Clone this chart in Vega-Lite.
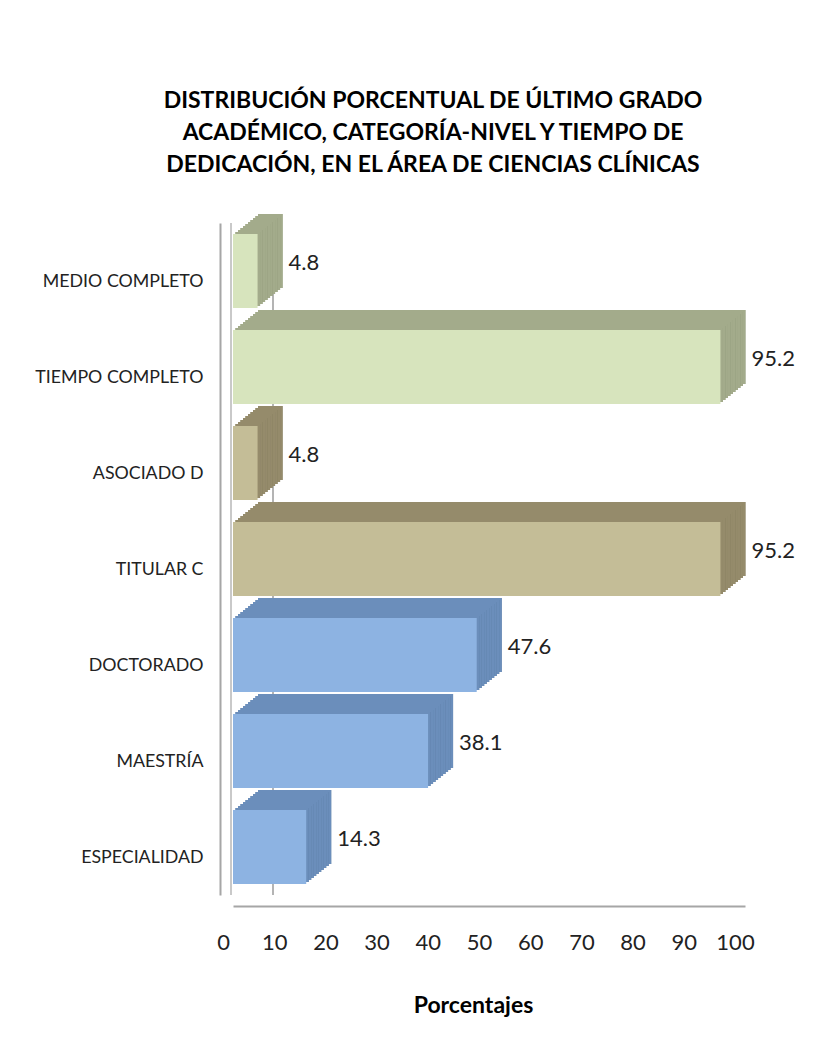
{
  "$schema": "https://vega.github.io/schema/vega-lite/v6.json",
  "width": 512,
  "height": 672,
  "autosize": "none",
  "padding": {"left": 233, "top": 223, "right": 77, "bottom": 160},
  "background": "white",
  "config": {"view": {"stroke": null}, "font": "Lato"},
  "title": {
    "text": ["DISTRIBUCIÓN PORCENTUAL DE ÚLTIMO GRADO", "ACADÉMICO, CATEGORÍA-NIVEL Y TIEMPO DE", "DEDICACIÓN, EN EL ÁREA DE CIENCIAS CLÍNICAS"],
    "font": "Lato",
    "fontSize": 23,
    "fontWeight": "bold",
    "color": "#000000",
    "lineHeight": 32,
    "anchor": "middle",
    "dx": -56,
    "offset": 37
  },
  "data": {
    "values": [
      {"categoria": "MEDIO COMPLETO", "grupo": "tiempo", "porcentaje": 4.8},
      {"categoria": "TIEMPO COMPLETO", "grupo": "tiempo", "porcentaje": 95.2},
      {"categoria": "ASOCIADO D", "grupo": "categoria", "porcentaje": 4.8},
      {"categoria": "TITULAR C", "grupo": "categoria", "porcentaje": 95.2},
      {"categoria": "DOCTORADO", "grupo": "grado", "porcentaje": 47.6},
      {"categoria": "MAESTRÍA", "grupo": "grado", "porcentaje": 38.1},
      {"categoria": "ESPECIALIDAD", "grupo": "grado", "porcentaje": 14.3}
    ]
  },
  "encoding": {
    "y": {
      "field": "categoria",
      "type": "nominal",
      "sort": null,
      "scale": {"paddingInner": 0.23, "paddingOuter": 0.115},
      "axis": {
        "title": null,
        "offset": 13,
        "domainColor": "#a6a6a6",
        "domainWidth": 2,
        "ticks": false,
        "tickSize": 0,
        "labelPadding": 17,
        "labelFontSize": 17.8,
        "labelColor": "#222222",
        "labelOffset": 11,
        "labelFont": "Lato"
      }
    },
    "x": {"field": "porcentaje", "type": "quantitative", "scale": {"domain": [0, 100], "nice": false}}
  },
  "layer": [
    {
      "mark": {"type": "rule", "color": "#c8c8c8", "strokeWidth": 1.5, "xOffset": -2},
      "encoding": {"x": {"datum": 0, "type": "quantitative", "scale": {"domain": [0, 100], "nice": false}}, "y": null}
    },
    {
      "mark": {"type": "rule", "color": "#b4b4b4", "strokeWidth": 1.5, "xOffset": 40},
      "encoding": {"x": {"datum": 0, "type": "quantitative", "scale": {"domain": [0, 100], "nice": false}}, "y": null}
    },
    {"mark": {"type": "bar", "xOffset": 25, "x2Offset": 25, "yOffset": -20, "y2Offset": -20}, "encoding": {"color": {"field": "grupo", "type": "nominal", "legend": null, "scale": {"domain": ["tiempo", "categoria", "grado"], "range": ["#8a9575", "#7f7a5c", "#56799f"]}}}},
    {"mark": {"type": "bar", "xOffset": 25, "x2Offset": 25, "yOffset": -20, "y2Offset": -91.9}, "encoding": {"color": {"field": "grupo", "type": "nominal", "legend": null, "scale": {"domain": ["tiempo", "categoria", "grado"], "range": ["#a3ab8b", "#958b6b", "#6b8ebb"]}}}},
    {"mark": {"type": "bar", "xOffset": 22.5, "x2Offset": 22.5, "yOffset": -18, "y2Offset": -18}, "encoding": {"color": {"field": "grupo", "type": "nominal", "legend": null, "scale": {"domain": ["tiempo", "categoria", "grado"], "range": ["#8a9575", "#7f7a5c", "#56799f"]}}}},
    {"mark": {"type": "bar", "xOffset": 22.5, "x2Offset": 22.5, "yOffset": -18, "y2Offset": -89.9}, "encoding": {"color": {"field": "grupo", "type": "nominal", "legend": null, "scale": {"domain": ["tiempo", "categoria", "grado"], "range": ["#a3ab8b", "#958b6b", "#6b8ebb"]}}}},
    {"mark": {"type": "bar", "xOffset": 20, "x2Offset": 20, "yOffset": -16, "y2Offset": -16}, "encoding": {"color": {"field": "grupo", "type": "nominal", "legend": null, "scale": {"domain": ["tiempo", "categoria", "grado"], "range": ["#8a9575", "#7f7a5c", "#56799f"]}}}},
    {"mark": {"type": "bar", "xOffset": 20, "x2Offset": 20, "yOffset": -16, "y2Offset": -87.9}, "encoding": {"color": {"field": "grupo", "type": "nominal", "legend": null, "scale": {"domain": ["tiempo", "categoria", "grado"], "range": ["#a3ab8b", "#958b6b", "#6b8ebb"]}}}},
    {"mark": {"type": "bar", "xOffset": 17.5, "x2Offset": 17.5, "yOffset": -14, "y2Offset": -14}, "encoding": {"color": {"field": "grupo", "type": "nominal", "legend": null, "scale": {"domain": ["tiempo", "categoria", "grado"], "range": ["#8a9575", "#7f7a5c", "#56799f"]}}}},
    {"mark": {"type": "bar", "xOffset": 17.5, "x2Offset": 17.5, "yOffset": -14, "y2Offset": -85.9}, "encoding": {"color": {"field": "grupo", "type": "nominal", "legend": null, "scale": {"domain": ["tiempo", "categoria", "grado"], "range": ["#a3ab8b", "#958b6b", "#6b8ebb"]}}}},
    {"mark": {"type": "bar", "xOffset": 15, "x2Offset": 15, "yOffset": -12, "y2Offset": -12}, "encoding": {"color": {"field": "grupo", "type": "nominal", "legend": null, "scale": {"domain": ["tiempo", "categoria", "grado"], "range": ["#8a9575", "#7f7a5c", "#56799f"]}}}},
    {"mark": {"type": "bar", "xOffset": 15, "x2Offset": 15, "yOffset": -12, "y2Offset": -83.9}, "encoding": {"color": {"field": "grupo", "type": "nominal", "legend": null, "scale": {"domain": ["tiempo", "categoria", "grado"], "range": ["#a3ab8b", "#958b6b", "#6b8ebb"]}}}},
    {"mark": {"type": "bar", "xOffset": 12.5, "x2Offset": 12.5, "yOffset": -10, "y2Offset": -10}, "encoding": {"color": {"field": "grupo", "type": "nominal", "legend": null, "scale": {"domain": ["tiempo", "categoria", "grado"], "range": ["#8a9575", "#7f7a5c", "#56799f"]}}}},
    {"mark": {"type": "bar", "xOffset": 12.5, "x2Offset": 12.5, "yOffset": -10, "y2Offset": -81.9}, "encoding": {"color": {"field": "grupo", "type": "nominal", "legend": null, "scale": {"domain": ["tiempo", "categoria", "grado"], "range": ["#a3ab8b", "#958b6b", "#6b8ebb"]}}}},
    {"mark": {"type": "bar", "xOffset": 10, "x2Offset": 10, "yOffset": -8, "y2Offset": -8}, "encoding": {"color": {"field": "grupo", "type": "nominal", "legend": null, "scale": {"domain": ["tiempo", "categoria", "grado"], "range": ["#8a9575", "#7f7a5c", "#56799f"]}}}},
    {"mark": {"type": "bar", "xOffset": 10, "x2Offset": 10, "yOffset": -8, "y2Offset": -79.9}, "encoding": {"color": {"field": "grupo", "type": "nominal", "legend": null, "scale": {"domain": ["tiempo", "categoria", "grado"], "range": ["#a3ab8b", "#958b6b", "#6b8ebb"]}}}},
    {"mark": {"type": "bar", "xOffset": 7.5, "x2Offset": 7.5, "yOffset": -6, "y2Offset": -6}, "encoding": {"color": {"field": "grupo", "type": "nominal", "legend": null, "scale": {"domain": ["tiempo", "categoria", "grado"], "range": ["#8a9575", "#7f7a5c", "#56799f"]}}}},
    {"mark": {"type": "bar", "xOffset": 7.5, "x2Offset": 7.5, "yOffset": -6, "y2Offset": -77.9}, "encoding": {"color": {"field": "grupo", "type": "nominal", "legend": null, "scale": {"domain": ["tiempo", "categoria", "grado"], "range": ["#a3ab8b", "#958b6b", "#6b8ebb"]}}}},
    {"mark": {"type": "bar", "xOffset": 5, "x2Offset": 5, "yOffset": -4, "y2Offset": -4}, "encoding": {"color": {"field": "grupo", "type": "nominal", "legend": null, "scale": {"domain": ["tiempo", "categoria", "grado"], "range": ["#8a9575", "#7f7a5c", "#56799f"]}}}},
    {"mark": {"type": "bar", "xOffset": 5, "x2Offset": 5, "yOffset": -4, "y2Offset": -75.9}, "encoding": {"color": {"field": "grupo", "type": "nominal", "legend": null, "scale": {"domain": ["tiempo", "categoria", "grado"], "range": ["#a3ab8b", "#958b6b", "#6b8ebb"]}}}},
    {"mark": {"type": "bar", "xOffset": 2.5, "x2Offset": 2.5, "yOffset": -2, "y2Offset": -2}, "encoding": {"color": {"field": "grupo", "type": "nominal", "legend": null, "scale": {"domain": ["tiempo", "categoria", "grado"], "range": ["#8a9575", "#7f7a5c", "#56799f"]}}}},
    {"mark": {"type": "bar", "xOffset": 2.5, "x2Offset": 2.5, "yOffset": -2, "y2Offset": -73.9}, "encoding": {"color": {"field": "grupo", "type": "nominal", "legend": null, "scale": {"domain": ["tiempo", "categoria", "grado"], "range": ["#a3ab8b", "#958b6b", "#6b8ebb"]}}}},
    {
      "mark": {"type": "bar"},
      "encoding": {
        "x": {
          "field": "porcentaje",
          "type": "quantitative",
          "scale": {"domain": [0, 100], "nice": false},
          "axis": {
            "values": [0, 10, 20, 30, 40, 50, 60, 70, 80, 90, 100],
            "offset": 11,
            "grid": false,
            "ticks": false,
            "tickSize": 0,
            "domainColor": "#a6a6a6",
            "domainWidth": 2,
            "labelFont": "Lato",
            "labelFontSize": 22,
            "labelColor": "#222222",
            "labelPadding": 26,
            "labelOffset": -10,
            "labelFlush": false,
            "title": "Porcentajes",
            "titleFont": "Lato",
            "titleFontSize": 23,
            "titleFontWeight": "bold",
            "titleColor": "#000000",
            "titleX": 240,
            "titleY": 99,
            "titleBaseline": "middle"
          }
        },
        "color": {"field": "grupo", "type": "nominal", "legend": null, "scale": {"domain": ["tiempo", "categoria", "grado"], "range": ["#d7e4bd", "#c4bd97", "#8db3e2"]}}
      }
    },
    {
      "mark": {"type": "text", "align": "left", "baseline": "middle", "dx": 31, "dy": -8, "fontSize": 22, "color": "#222222", "font": "Lato"},
      "encoding": {"text": {"field": "porcentaje", "type": "quantitative", "format": ".1f"}}
    }
  ],
  "resolve": {"scale": {"color": "independent"}}
}
